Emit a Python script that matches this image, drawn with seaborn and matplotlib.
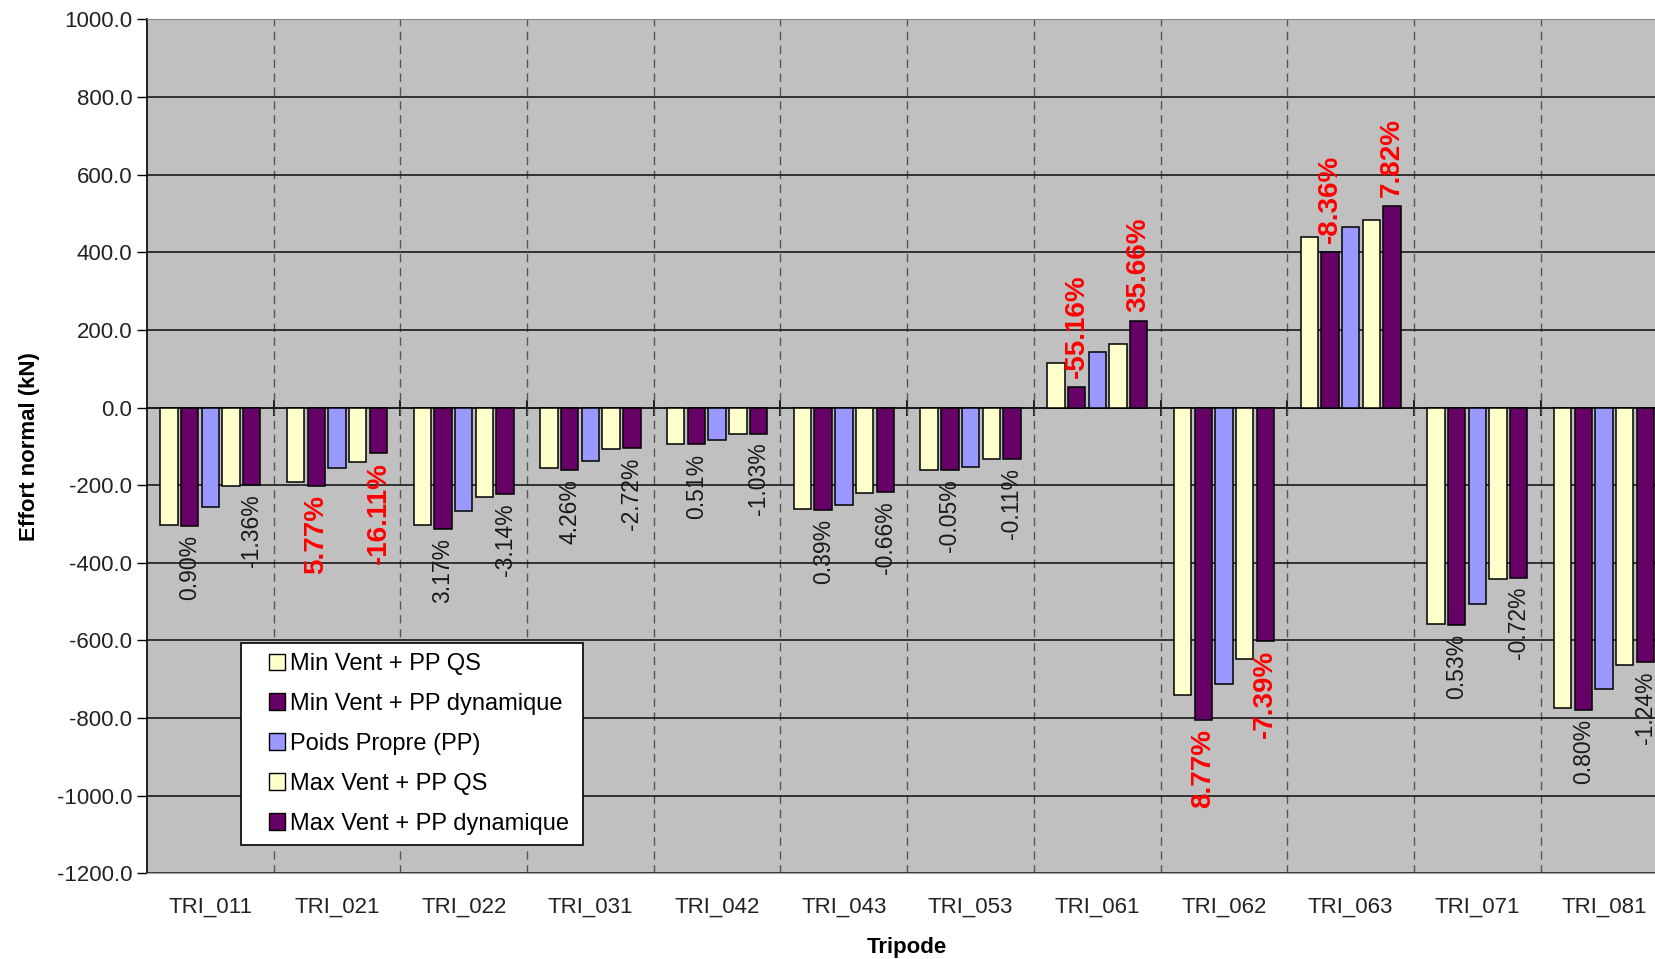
import numpy as np
import pandas as pd
import matplotlib
matplotlib.use("Agg")
import matplotlib.pyplot as plt
from matplotlib.ticker import FuncFormatter, FixedLocator
from matplotlib.legend_handler import HandlerPatch
from matplotlib.patches import Rectangle
import seaborn as sns

# Normal force per tripod for each load case (kN)
tripodes = ["TRI_011", "TRI_021", "TRI_022", "TRI_031", "TRI_042", "TRI_043",
            "TRI_053", "TRI_061", "TRI_062", "TRI_063", "TRI_071", "TRI_081"]
series_names = ["Min Vent + PP QS", "Min Vent + PP dynamique", "Poids Propre (PP)",
                "Max Vent + PP QS", "Max Vent + PP dynamique"]

min_vent_qs = [-302, -191, -303, -155, -93, -262, -161, 115.5, -741, 439, -557, -773]
min_vent_dyn = [-305, -202, -312.5, -161.5, -95, -263, -161, 51.8, -806, 402, -560, -779]
poids_propre = [-255, -156, -267, -137, -84, -251, -152, 143, -713, 466, -507, -726]
max_vent_qs = [-203, -140, -230, -108, -68, -220, -133, 163.5, -649, 482, -441, -664]
max_vent_dyn = [-200, -117.5, -223, -105, -67.3, -218.5, -133, 221.8, -601, 519.7, -438, -656]

# Relative gap between dynamic and quasi-static results (%)
ecart_min = [0.90, 5.77, 3.17, 4.26, 0.51, 0.39, -0.05, -55.16, 8.77, -8.36, 0.53, 0.80]
ecart_max = [-1.36, -16.11, -3.14, -2.72, -1.03, -0.66, -0.11, 35.66, -7.39, 7.82, -0.72, -1.24]

yticks = [-1200, -1000, -800, -600, -400, -200, 0, 200, 400, 600, 800, 1000]

series_values = [min_vent_qs, min_vent_dyn, poids_propre, max_vent_qs, max_vent_dyn]
df = pd.DataFrame({
    "Tripode": np.tile(tripodes, len(series_names)),
    "Effort": np.concatenate(series_values),
    "Cas": np.repeat(series_names, len(tripodes)),
})

palette = ["#FFFFCC", "#660066", "#9999FF", "#FFFFCC", "#660066"]

plt.rcParams["font.family"] = ["Liberation Sans", "DejaVu Sans"]


class SquareHandler(HandlerPatch):
    """Legend key drawn as a small square at the right end of the handle box."""

    def create_artists(self, legend, orig_handle, xdescent, ydescent,
                       width, height, fontsize, trans):
        side = height
        p = Rectangle((width - side - xdescent, -ydescent), side, side)
        self.update_prop(p, orig_handle, legend)
        p.set_linewidth(1.0)
        p.set_edgecolor("black")
        p.set_transform(trans)
        return [p]


fig = plt.figure(figsize=(16.55, 9.59), dpi=100)
ax = fig.add_axes([0.0888, 0.0894, 0.9187, 0.8903])
ax.set_facecolor("#C0C0C0")

sns.barplot(data=df, x="Tripode", y="Effort", hue="Cas", order=tripodes,
            hue_order=series_names, palette=palette, saturation=1,
            width=0.817, gap=0.16, edgecolor="black", linewidth=1.1,
            errorbar=None, ax=ax, zorder=3)

ax.set_ylim(-1200, 1000)
ax.set_xlim(-0.5, len(tripodes) - 0.5)
ax.set_yticks(yticks)
ax.yaxis.set_major_formatter(FuncFormatter(lambda v, _: f"{v:.1f}"))
ax.tick_params(axis="y", direction="out", length=7, width=1, labelsize=16,
               colors="black", labelcolor="#222222")
ax.tick_params(axis="x", which="both", length=0, pad=17, labelsize=16,
               labelcolor="#222222")

# Horizontal grid lines and dashed separators between tripods
ax.grid(axis="y", color="#1a1a1a", linewidth=1.2, zorder=1)
ax.xaxis.set_minor_locator(FixedLocator(np.arange(len(tripodes) - 1) + 0.5))
ax.grid(axis="x", which="minor", color="#555555", linewidth=1.0,
        linestyle=(0, (6, 4)), zorder=1)
ax.grid(axis="x", which="major", visible=False)
ax.set_axisbelow(True)

ax.spines["left"].set_color("black")
ax.spines["left"].set_linewidth(1.2)
ax.spines["top"].set_color("#8a8a8a")
ax.spines["bottom"].set_color("#a8a8a8")
ax.spines["right"].set_visible(False)

# Category axis crossing at zero, with tick marks at the separators
zero_frac = (0 - yticks[0]) / (yticks[-1] - yticks[0])
sec = ax.secondary_xaxis(zero_frac)
sec.set_xticks(np.arange(len(tripodes) - 1) + 0.5)
sec.set_xticklabels([])
sec.tick_params(direction="inout", length=12, width=1.2, color="black")
for sp in sec.spines.values():
    sp.set_color("black")
    sp.set_linewidth(1.2)

ax.set_ylabel("Effort normal (kN)", fontsize=16, fontweight="bold", labelpad=12)
ax.set_xlabel("Tripode", fontsize=16, fontweight="bold", labelpad=14)

# Percentage labels at the end of the dynamic bars
for container, ecarts in ((ax.containers[1], ecart_min), (ax.containers[4], ecart_max)):
    for bar, pct in zip(container, ecarts):
        end = bar.get_y() + bar.get_height()
        xc = bar.get_x() + bar.get_width() / 2
        strong = abs(pct) >= 5
        positive = end >= 0
        ax.annotate(f"{pct:.2f}%", xy=(xc, end),
                    xytext=(0, 6.5 if positive else -6.5), textcoords="offset points",
                    rotation=90, ha="center", va="bottom" if positive else "top",
                    fontsize=20 if strong else 16.5,
                    fontweight="bold" if strong else "normal",
                    color="#FF0000" if strong else "#1a1a1a", zorder=5)

handles, labels = ax.get_legend_handles_labels()
leg = ax.legend(handles, labels, loc="upper left",
                bbox_to_anchor=(0.0618, 0.0, 0.225, 0.2697), mode="expand",
                borderaxespad=0, fontsize=17, frameon=True, fancybox=False,
                edgecolor="black", facecolor="white", framealpha=1,
                handlelength=1.44, handleheight=0.68, handletextpad=0.2,
                labelspacing=0.76, borderpad=0.42,
                handler_map={Rectangle: SquareHandler()})
leg.get_frame().set_linewidth(1.2)
leg.set_zorder(6)

fig.savefig("out.png", dpi=100, facecolor="white")
